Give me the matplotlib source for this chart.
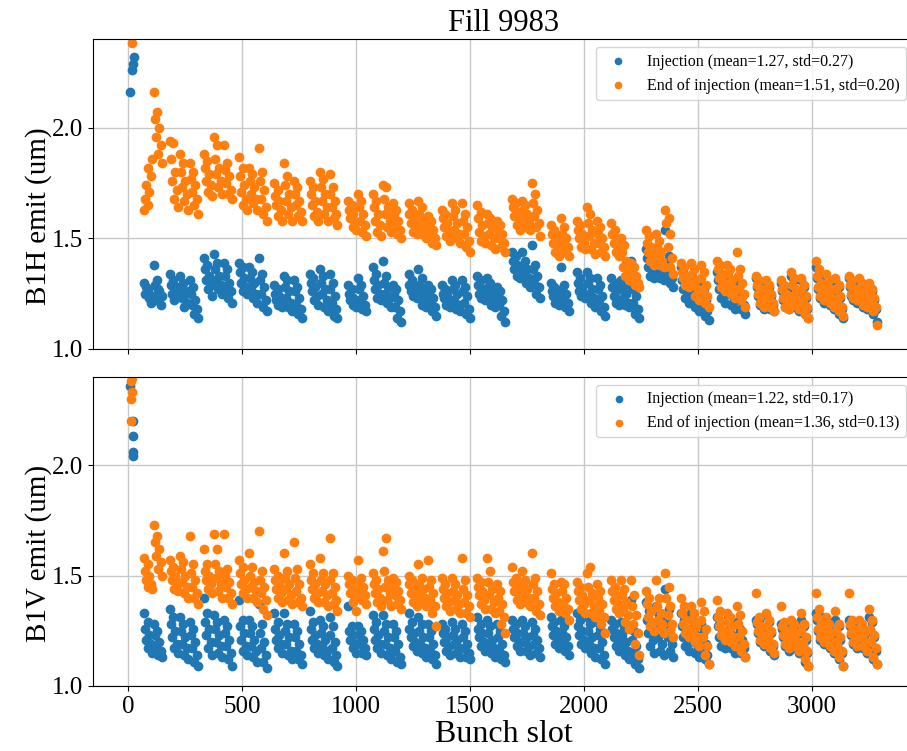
import matplotlib
matplotlib.use("Agg")
import matplotlib.pyplot as plt
import numpy as np

plt.rcParams['font.family'] = ['Liberation Serif', 'DejaVu Serif']

# Filling scheme: first bunch slot of each train and number of 36-bunch batches
train_start = [70, 183, 333, 487, 641, 797, 966, 1075, 1230, 1378, 1532,
               1686, 1855, 1970, 2121, 2272, 2426, 2585, 2755, 2865, 3018, 3165]
train_batches = [2, 3, 3, 3, 3, 3, 2, 3, 3, 3, 3, 3, 2, 3, 3, 3, 3, 3, 2, 3, 3, 3]
batch_len = 36
batch_gap = 7
picked = [0, 14, 4, 22, 9, 30, 18, 35]

# Emittance readings, in hundredths of um above 1.0 (one list per train)
b1h_inj = [
    [30, 27, 25, 23, 28, 21, 26, 24, 38, 31, 29, 26, 22, 20, 27, 24],
    [34, 31, 29, 27, 25, 24, 22, 28, 33, 30, 27, 25, 23, 21, 19, 26, 31, 28, 25, 22, 20, 18, 16, 14],
    [41, 38, 36, 33, 31, 29, 27, 24, 43, 39, 36, 33, 31, 29, 27, 25, 39, 36, 33, 30, 28, 26, 23, 21],
    [39, 37, 35, 32, 30, 28, 26, 25, 37, 35, 32, 30, 28, 25, 23, 21, 41, 34, 31, 28, 25, 22, 19, 17],
    [29, 27, 25, 24, 22, 21, 20, 19, 33, 31, 28, 26, 23, 21, 19, 17, 31, 28, 26, 23, 20, 18, 16, 14],
    [34, 32, 30, 28, 26, 24, 22, 20, 36, 33, 30, 27, 25, 22, 19, 17, 34, 30, 27, 24, 21, 18, 15, 14],
    [29, 27, 25, 23, 22, 21, 20, 19, 32, 29, 27, 24, 22, 20, 18, 17],
    [37, 34, 31, 29, 27, 25, 23, 22, 40, 33, 30, 28, 25, 23, 21, 19, 29, 27, 25, 22, 19, 17, 14, 12],
    [34, 31, 29, 27, 26, 25, 24, 23, 36, 32, 29, 27, 25, 22, 20, 19, 29, 27, 25, 23, 21, 19, 17, 15],
    [29, 27, 25, 24, 23, 22, 20, 19, 31, 29, 27, 25, 22, 20, 18, 17, 31, 28, 26, 24, 21, 18, 16, 14],
    [33, 31, 29, 27, 25, 24, 23, 22, 32, 30, 28, 26, 24, 22, 20, 19, 28, 26, 24, 22, 20, 17, 15, 12],
    [44, 42, 40, 38, 36, 35, 33, 32, 44, 40, 38, 36, 34, 32, 30, 28, 47, 38, 36, 33, 30, 28, 25, 23],
    [30, 28, 26, 25, 24, 23, 21, 20, 37, 29, 27, 25, 23, 21, 19, 17],
    [35, 32, 30, 28, 26, 25, 24, 23, 35, 32, 30, 27, 25, 23, 21, 19, 32, 29, 27, 24, 22, 19, 17, 15],
    [32, 30, 28, 26, 24, 22, 21, 20, 31, 29, 27, 25, 23, 21, 20, 19, 40, 29, 27, 24, 21, 18, 16, 14],
    [45, 43, 41, 39, 37, 35, 33, 32, 43, 41, 39, 37, 35, 33, 32, 31, 54, 42, 39, 36, 34, 32, 30, 28],
    [37, 34, 31, 29, 27, 25, 23, 21, 32, 30, 28, 26, 23, 21, 19, 17, 29, 27, 25, 22, 20, 17, 15, 13],
    [35, 33, 31, 29, 27, 25, 23, 21, 33, 31, 29, 27, 25, 22, 20, 18, 31, 29, 27, 24, 22, 20, 18, 16],
    [32, 30, 28, 26, 24, 22, 20, 18, 30, 28, 26, 24, 22, 20, 18, 17],
    [30, 28, 26, 24, 22, 20, 19, 18, 33, 31, 28, 26, 23, 21, 19, 17, 31, 28, 25, 23, 20, 18, 16, 14],
    [37, 34, 32, 29, 27, 25, 23, 21, 33, 30, 28, 26, 24, 22, 20, 18, 31, 28, 26, 23, 21, 18, 16, 14],
    [32, 30, 28, 26, 24, 23, 22, 21, 31, 29, 27, 25, 23, 21, 19, 18, 29, 26, 24, 22, 20, 18, 16, 12],
]
b1h_end = [
    [63, 65, 68, 71, 74, 78, 82, 86, 116, 107, 104, 100, 96, 92, 88, 84],
    [94, 93, 86, 80, 76, 72, 68, 64, 88, 84, 80, 76, 73, 70, 67, 63, 84, 80, 77, 74, 71, 68, 65, 61],
    [88, 85, 82, 79, 76, 74, 71, 69, 96, 92, 86, 82, 79, 76, 73, 70, 92, 84, 81, 78, 75, 72, 70, 68],
    [87, 82, 78, 74, 71, 68, 65, 63, 82, 79, 76, 73, 70, 68, 66, 63, 91, 80, 76, 72, 68, 64, 61, 58],
    [75, 72, 69, 67, 65, 63, 60, 58, 84, 78, 74, 70, 67, 64, 61, 58, 76, 73, 70, 67, 65, 62, 60, 58],
    [76, 73, 70, 67, 65, 62, 60, 58, 80, 77, 73, 70, 67, 64, 61, 58, 79, 73, 70, 67, 64, 61, 59, 56],
    [67, 65, 63, 61, 59, 57, 55, 54, 70, 67, 64, 61, 58, 56, 53, 51],
    [70, 67, 64, 61, 58, 56, 53, 51, 74, 73, 68, 64, 61, 58, 55, 53, 66, 63, 61, 58, 56, 54, 52, 50],
    [66, 63, 61, 59, 57, 55, 53, 52, 67, 64, 61, 58, 56, 54, 52, 50, 60, 58, 56, 54, 52, 50, 48, 47],
    [63, 61, 59, 57, 55, 53, 51, 49, 66, 63, 60, 57, 54, 52, 50, 48, 66, 61, 58, 55, 52, 49, 46, 44],
    [65, 62, 59, 56, 53, 51, 49, 48, 61, 59, 57, 55, 52, 50, 47, 45, 58, 56, 54, 52, 50, 48, 46, 44],
    [68, 66, 64, 62, 60, 58, 56, 54, 67, 65, 63, 61, 59, 57, 55, 54, 75, 70, 66, 63, 60, 57, 55, 51],
    [56, 54, 52, 50, 48, 46, 44, 42, 59, 55, 52, 50, 48, 46, 44, 42],
    [58, 56, 54, 52, 50, 48, 46, 45, 64, 61, 57, 54, 51, 48, 45, 43, 58, 55, 52, 50, 48, 46, 44, 42],
    [57, 54, 52, 50, 48, 46, 44, 42, 50, 47, 44, 40, 37, 35, 33, 31, 39, 37, 35, 33, 31, 30, 29, 28],
    [54, 51, 48, 46, 44, 42, 40, 38, 52, 49, 46, 44, 42, 40, 38, 37, 63, 59, 57, 52, 46, 41, 37, 34],
    [39, 37, 35, 33, 32, 30, 29, 28, 39, 36, 34, 31, 29, 27, 24, 22, 38, 35, 32, 29, 26, 24, 21, 19],
    [40, 38, 36, 34, 32, 30, 28, 26, 38, 36, 34, 31, 29, 27, 25, 23, 44, 36, 33, 30, 27, 25, 22, 19],
    [33, 31, 29, 27, 25, 23, 21, 19, 31, 29, 27, 25, 23, 21, 19, 17],
    [31, 29, 27, 25, 23, 21, 19, 18, 35, 32, 29, 27, 24, 22, 20, 18, 32, 29, 26, 24, 21, 19, 16, 14],
    [40, 36, 33, 30, 28, 26, 24, 22, 34, 31, 29, 27, 25, 23, 21, 19, 32, 29, 27, 24, 22, 19, 17, 15],
    [33, 31, 29, 27, 25, 24, 23, 22, 32, 30, 28, 26, 24, 22, 20, 19, 30, 27, 25, 23, 21, 19, 17, 11],
]
b1v_inj = [
    [33, 29, 26, 23, 21, 19, 17, 15, 28, 25, 23, 20, 18, 16, 14, 13],
    [35, 31, 28, 25, 22, 19, 17, 15, 31, 28, 25, 22, 19, 17, 14, 12, 29, 26, 23, 20, 17, 14, 11, 9],
    [40, 33, 29, 26, 23, 20, 17, 14, 32, 29, 26, 23, 20, 18, 15, 13, 30, 27, 24, 21, 18, 15, 12, 9],
    [39, 30, 27, 24, 21, 18, 16, 14, 30, 27, 24, 21, 18, 16, 13, 11, 37, 28, 24, 20, 17, 14, 11, 8],
    [33, 29, 26, 23, 21, 19, 17, 15, 33, 28, 25, 22, 19, 16, 14, 12, 28, 25, 22, 19, 16, 14, 12, 10],
    [34, 29, 26, 23, 21, 19, 17, 15, 30, 27, 24, 21, 18, 16, 14, 12, 31, 27, 23, 20, 17, 14, 11, 9],
    [36, 27, 25, 23, 21, 19, 17, 15, 27, 25, 23, 21, 19, 17, 15, 14],
    [32, 29, 26, 23, 21, 19, 17, 15, 32, 28, 25, 22, 19, 17, 14, 12, 28, 25, 22, 19, 16, 13, 11, 10],
    [33, 29, 26, 24, 22, 20, 18, 16, 31, 28, 25, 22, 19, 17, 15, 13, 28, 25, 22, 19, 16, 14, 12, 10],
    [28, 26, 24, 22, 20, 18, 16, 14, 29, 26, 23, 21, 19, 17, 15, 13, 28, 25, 22, 19, 17, 15, 13, 12],
    [31, 28, 26, 24, 22, 20, 18, 16, 30, 27, 24, 21, 19, 17, 15, 13, 28, 25, 22, 19, 16, 14, 12, 11],
    [30, 28, 26, 24, 22, 20, 18, 16, 30, 27, 24, 22, 20, 18, 16, 14, 29, 26, 23, 21, 19, 17, 15, 13],
    [31, 29, 27, 25, 23, 21, 19, 17, 30, 27, 24, 22, 20, 18, 16, 14],
    [33, 30, 27, 25, 23, 21, 19, 17, 31, 28, 25, 22, 19, 17, 15, 13, 29, 26, 23, 20, 17, 14, 12, 10],
    [30, 28, 26, 24, 22, 20, 18, 16, 29, 26, 23, 20, 18, 16, 14, 12, 39, 25, 21, 18, 15, 12, 10, 8],
    [38, 34, 30, 27, 24, 21, 18, 15, 36, 32, 28, 25, 22, 19, 16, 14, 44, 35, 30, 26, 22, 19, 16, 13],
    [33, 30, 27, 24, 22, 20, 18, 16, 33, 29, 26, 23, 20, 17, 15, 13, 28, 25, 22, 19, 16, 14, 12, 10],
    [31, 29, 27, 24, 22, 20, 18, 17, 30, 28, 25, 23, 21, 19, 17, 15, 29, 26, 23, 21, 19, 17, 15, 13],
    [30, 30, 28, 26, 24, 22, 20, 18, 32, 29, 26, 24, 21, 18, 16, 14],
    [28, 28, 26, 24, 22, 20, 18, 16, 29, 27, 25, 23, 21, 19, 17, 15, 30, 27, 24, 21, 18, 15, 11, 9],
    [33, 32, 30, 27, 25, 23, 21, 19, 30, 27, 25, 23, 21, 19, 17, 15, 30, 27, 24, 21, 18, 15, 12, 9],
    [30, 29, 27, 25, 23, 21, 19, 17, 29, 27, 25, 23, 21, 19, 17, 15, 31, 29, 25, 22, 19, 16, 12, 10],
]
b1v_end = [
    [58, 55, 52, 50, 48, 46, 45, 44, 73, 68, 65, 62, 59, 56, 53, 50],
    [57, 54, 52, 50, 48, 46, 44, 43, 59, 56, 53, 50, 47, 45, 42, 40, 68, 55, 51, 48, 45, 42, 40, 37],
    [62, 55, 52, 50, 48, 46, 44, 42, 69, 62, 55, 52, 49, 46, 43, 40, 69, 53, 50, 47, 45, 42, 40, 37],
    [57, 54, 51, 48, 46, 44, 42, 40, 60, 54, 50, 47, 45, 43, 40, 38, 70, 52, 48, 45, 42, 39, 35, 32],
    [53, 50, 48, 46, 44, 42, 40, 38, 60, 52, 49, 46, 44, 41, 39, 37, 65, 53, 49, 46, 43, 40, 38, 36],
    [55, 51, 48, 46, 44, 42, 40, 38, 58, 51, 48, 46, 43, 41, 38, 36, 67, 51, 48, 45, 42, 39, 37, 34],
    [50, 48, 46, 44, 42, 40, 38, 34, 57, 49, 47, 45, 43, 41, 39, 37],
    [51, 48, 46, 44, 42, 40, 38, 36, 61, 67, 52, 48, 45, 42, 39, 36, 49, 47, 45, 43, 41, 39, 37, 35],
    [50, 48, 46, 44, 42, 40, 38, 36, 55, 49, 46, 44, 42, 40, 38, 36, 57, 48, 45, 42, 39, 36, 33, 27],
    [49, 46, 44, 42, 40, 38, 36, 34, 49, 46, 43, 41, 39, 37, 35, 33, 58, 48, 44, 41, 38, 36, 33, 31],
    [49, 47, 45, 43, 41, 39, 37, 35, 58, 52, 47, 44, 41, 38, 35, 33, 46, 43, 40, 37, 34, 31, 28, 24],
    [54, 49, 47, 45, 43, 41, 39, 37, 52, 48, 46, 44, 42, 40, 38, 36, 60, 49, 46, 43, 40, 37, 34, 32],
    [51, 46, 44, 42, 40, 38, 36, 34, 47, 46, 43, 40, 37, 35, 33, 30],
    [47, 45, 43, 41, 39, 37, 35, 33, 51, 54, 45, 42, 39, 36, 33, 31, 46, 43, 40, 37, 34, 31, 28, 24],
    [48, 45, 43, 41, 39, 37, 35, 33, 48, 44, 41, 38, 35, 32, 29, 26, 48, 41, 36, 32, 28, 24, 19, 14],
    [43, 40, 37, 34, 31, 29, 27, 25, 48, 40, 36, 33, 30, 28, 26, 24, 51, 45, 40, 36, 32, 28, 25, 22],
    [40, 36, 33, 30, 28, 26, 24, 22, 36, 33, 30, 27, 24, 22, 20, 18, 38, 34, 30, 26, 22, 18, 14, 10],
    [39, 34, 31, 29, 27, 25, 23, 21, 33, 31, 29, 27, 24, 22, 20, 18, 36, 32, 28, 25, 22, 19, 16, 13],
    [42, 31, 29, 27, 25, 23, 21, 19, 33, 30, 27, 25, 22, 19, 17, 15],
    [36, 29, 27, 25, 23, 21, 19, 17, 30, 28, 26, 24, 22, 20, 18, 16, 33, 28, 25, 22, 19, 16, 12, 9],
    [42, 35, 31, 28, 26, 24, 22, 20, 31, 28, 26, 24, 22, 20, 18, 16, 34, 28, 25, 22, 19, 16, 13, 9],
    [42, 30, 28, 26, 24, 22, 20, 18, 30, 28, 26, 24, 22, 20, 18, 16, 35, 30, 26, 23, 20, 17, 13, 10],
]

# Pilot / individual bunches at the start of the fill (um)
h_pilot_inj_slot = [7, 17, 20, 25]
h_pilot_inj = [2.16, 2.26, 2.29, 2.32]
h_pilot_end_slot = [15]
h_pilot_end = [2.385]
v_pilot_inj_slot = [8, 20, 20, 22, 19]
v_pilot_inj = [2.36, 2.20, 2.13, 2.06, 2.04]
v_pilot_end_slot = [15, 12, 17, 12, 12]
v_pilot_end = [2.395, 2.38, 2.33, 2.30, 2.20]

legend_h = ['Injection (mean=1.27, std=0.27)', 'End of injection (mean=1.51, std=0.20)']
legend_v = ['Injection (mean=1.22, std=0.17)', 'End of injection (mean=1.36, std=0.13)']


def bunch_slots():
    slots = []
    for start, nb in zip(train_start, train_batches):
        for b in range(nb):
            for p in picked:
                slots.append(start + b * (batch_len + batch_gap) + p)
    return np.array(slots)


def flat(trains):
    return 1.0 + np.concatenate([np.array(t) for t in trains]) / 100.0


slots = bunch_slots()

fig = plt.figure(figsize=(9.07, 7.51), dpi=100)
# axes run a little past the right edge of the picture, as in the original
ax1 = fig.add_axes([0.1029, 0.5353, 0.905, 0.4124])
ax2 = fig.add_axes([0.1029, 0.0866, 0.905, 0.4118], sharex=ax1)

panels = [
    (ax1, h_pilot_inj_slot, h_pilot_inj, h_pilot_end_slot, h_pilot_end,
     b1h_inj, b1h_end, legend_h, 'B1H emit (um)'),
    (ax2, v_pilot_inj_slot, v_pilot_inj, v_pilot_end_slot, v_pilot_end,
     b1v_inj, b1v_end, legend_v, 'B1V emit (um)'),
]

for ax, pis, piv, pes, pev, inj, end, labels, ylab in panels:
    x_inj = np.concatenate([pis, slots])
    y_inj = np.concatenate([piv, flat(inj)])
    x_end = np.concatenate([pes, slots])
    y_end = np.concatenate([pev, flat(end)])
    ax.scatter(x_inj, y_inj, s=36, color='#1f77b4', label=labels[0], zorder=2)
    ax.scatter(x_end, y_end, s=36, color='#ff7f0e', label=labels[1], zorder=2)
    ax.set_ylim(1.0, 2.4)
    ax.set_yticks([1.0, 1.5, 2.0])
    ax.grid(True, color='#c8c8c8', linewidth=1.0, zorder=0)
    ax.set_axisbelow(True)
    ax.tick_params(labelsize=18)
    ax.set_ylabel(ylab, fontsize=21)
    ax.yaxis.set_label_coords(-0.05, 0.43)
    ax.legend(loc='upper right', fontsize=11.5, markerscale=0.75)

ax1.set_xlim(-154, 3450)
ax1.set_xticks([0, 500, 1000, 1500, 2000, 2500, 3000])
ax1.tick_params(labelbottom=False)
ax1.set_title('Fill 9983', fontsize=22)
ax2.set_xlabel('Bunch slot', fontsize=23, labelpad=2)

fig.savefig('out.png', dpi=100)
